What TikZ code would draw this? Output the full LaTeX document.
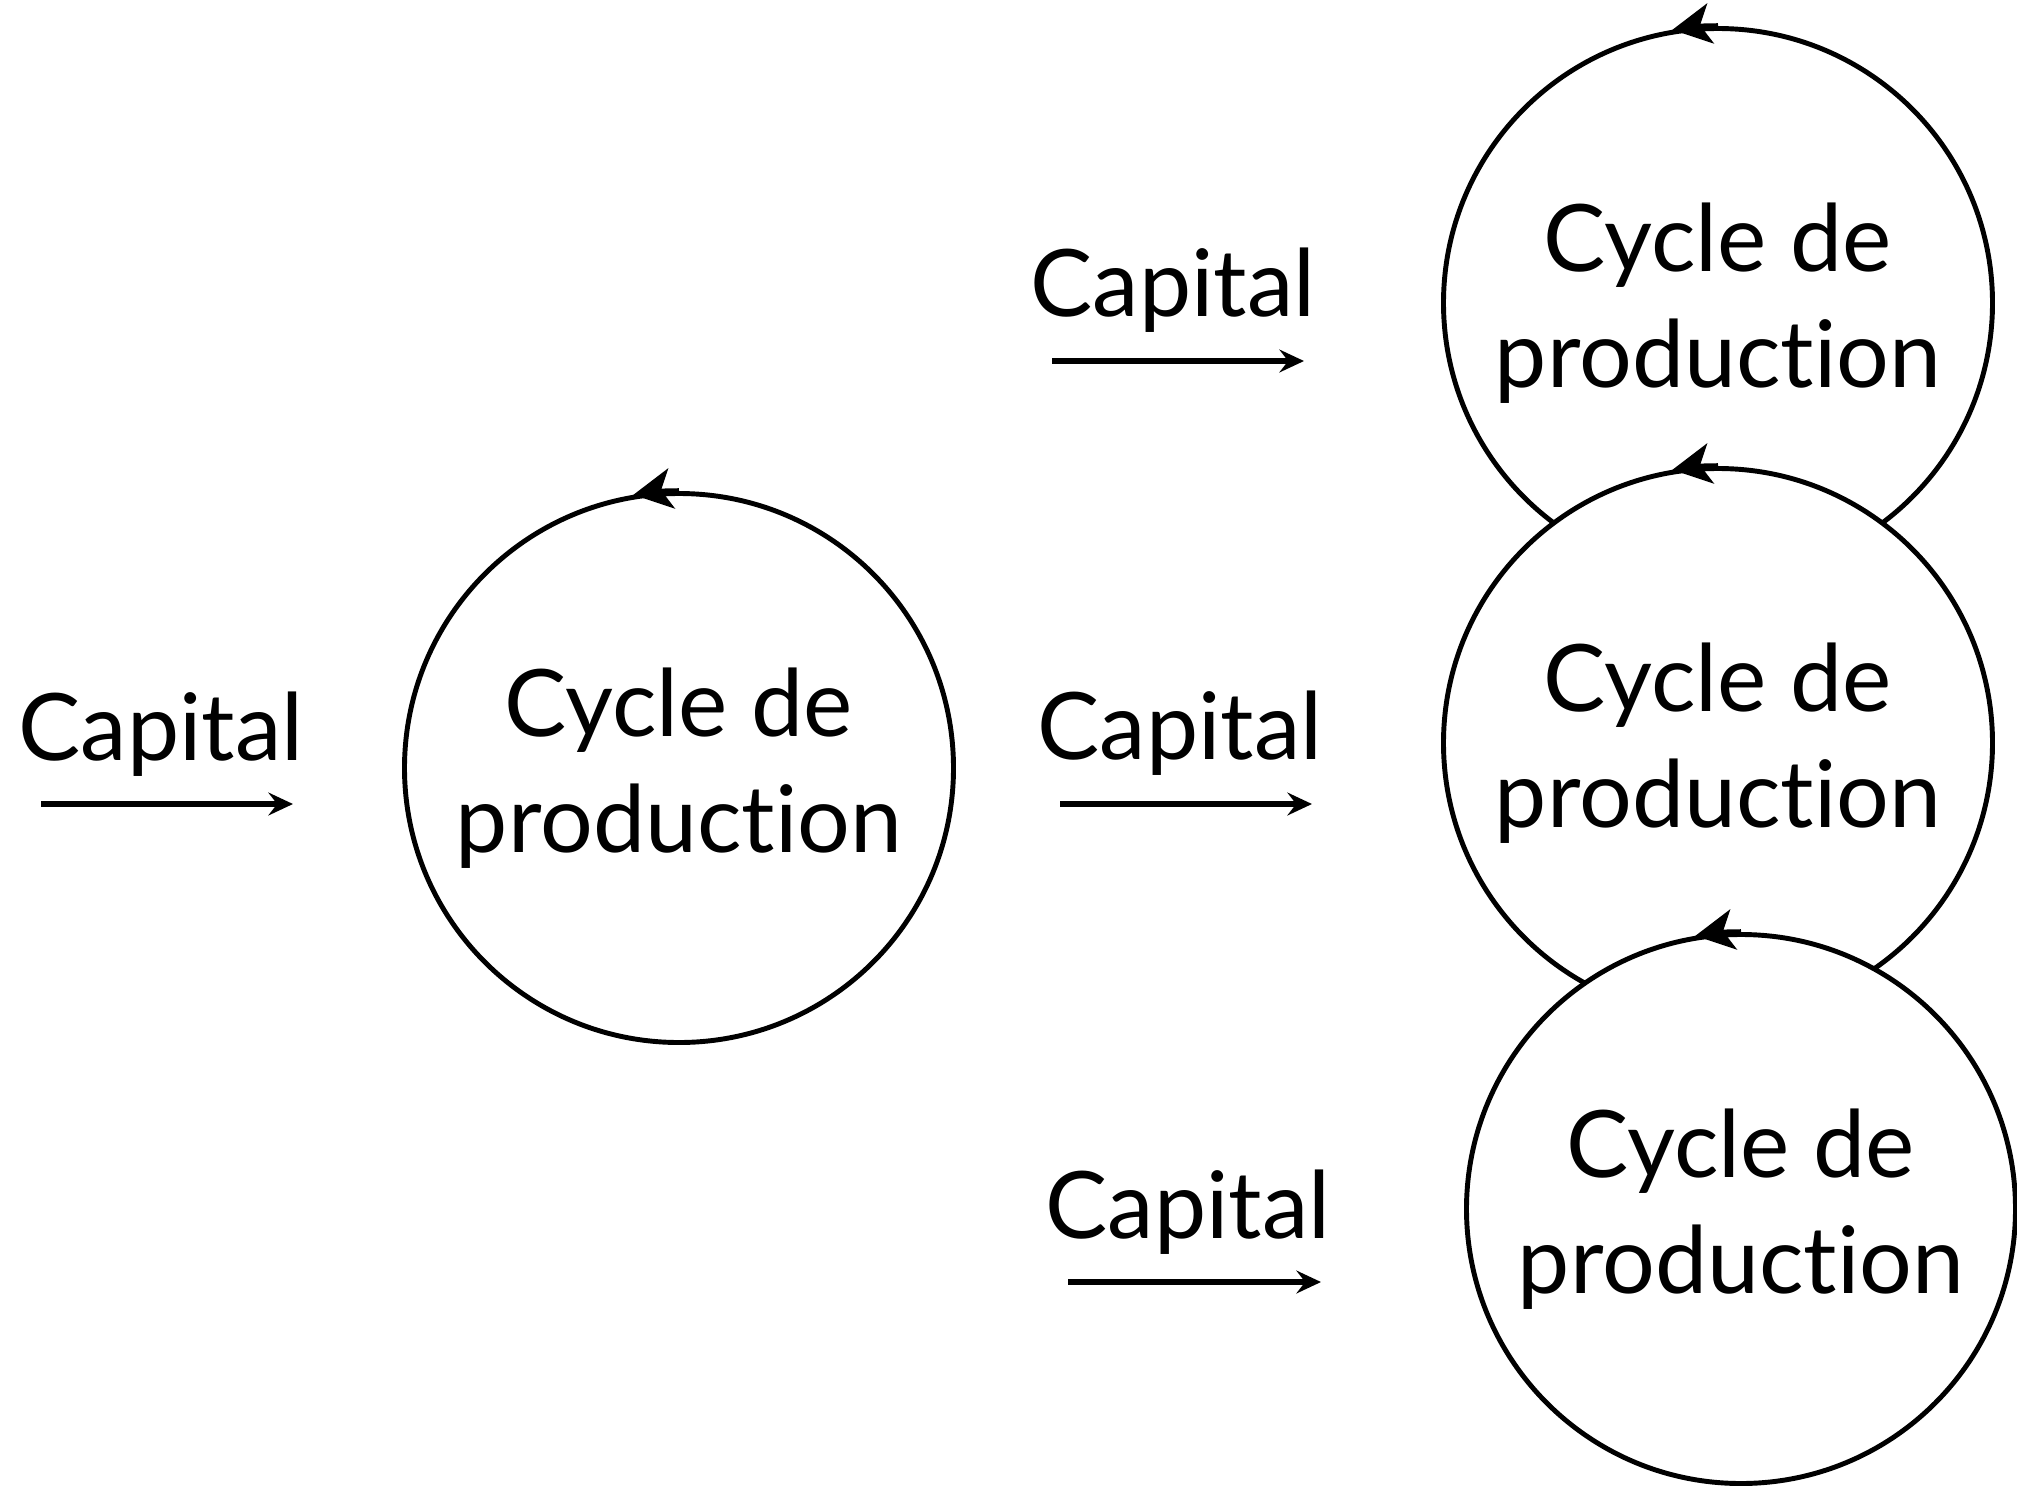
\documentclass[tikz,border=0pt]{standalone}
\usepackage{fontspec}
\setmainfont{Lato}[Ligatures={NoCommon}]
\usetikzlibrary{positioning,arrows.meta}

\begin{document}
\begin{tikzpicture}[node distance=4.4cm]
    \tikzstyle{cycle}=[circle, draw=black, fill=white, line width=1.4pt, minimum size=5.49cm, align=center, font=\fontsize{26.5}{33}\selectfont]
    \tikzstyle{caplabel}=[anchor=base, inner sep=0pt, font=\fontsize{26.5}{33}\selectfont]
    \tikzstyle{flow}=[-{Stealth[length=7pt, width=6.5pt, inset=2.5pt]}, line width=1.8pt]
    \tikzstyle{turn}=[-{Stealth[length=11pt, width=11.5pt, inset=3pt]}, line width=1.6pt]

    \useasboundingbox (0,0) rectangle (20.17,-14.86);

    % Production cycles
    \node[cycle] (single) at (6.79,-7.68) {Cycle de\\production};
    \node[cycle] (top) [right of=single, xshift=5.99cm, yshift=4.65cm] {Cycle de\\production};
    \node[cycle] (mid) [below of=top] {Cycle de\\production};
    \node[cycle] (bottom) [below of=mid, yshift=-0.26cm, xshift=0.23cm] {Cycle de\\production};

    % Turning arrows
    \draw[turn] (single.north) arc[start angle=90, end angle=99.5, radius=2.77cm];
    \draw[turn] (top.north) arc[start angle=90, end angle=99.5, radius=2.77cm];
    \draw[turn] (mid.north) arc[start angle=90, end angle=99.5, radius=2.77cm];
    \draw[turn] (bottom.north) arc[start angle=90, end angle=99.5, radius=2.77cm];

    % Capital inflows
    \coordinate (in1a) at (0.41,-8.04);
    \coordinate (in1b) at (2.93,-8.04);
    \coordinate (in2a) at (10.52,-3.61);
    \coordinate (in2b) at (13.04,-3.61);
    \coordinate (in3a) at (10.60,-8.04);
    \coordinate (in3b) at (13.12,-8.04);
    \coordinate (in4a) at (10.68,-12.82);
    \coordinate (in4b) at (13.21,-12.82);

    \node[caplabel] (cap1) at (1.61,-7.60) {Capital};
    \node[caplabel] (cap2) at (11.73,-3.16) {Capital};
    \node[caplabel] (cap3) at (11.80,-7.59) {Capital};
    \node[caplabel] (cap4) at (11.88,-12.38) {Capital};

    % Arrows
    \draw[flow] (in1a) -- (in1b);
    \draw[flow] (in2a) -- (in2b);
    \draw[flow] (in3a) -- (in3b);
    \draw[flow] (in4a) -- (in4b);
\end{tikzpicture}
\end{document}
